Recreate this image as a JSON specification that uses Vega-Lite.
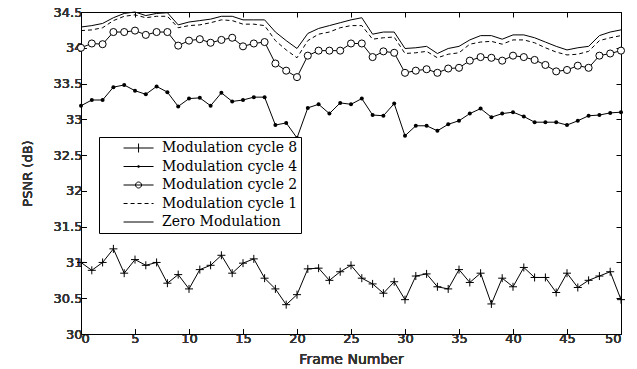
{
  "$schema": "https://vega.github.io/schema/vega-lite/v6.json",
  "width": 540,
  "height": 322,
  "autosize": {"type": "none"},
  "padding": {"left": 81, "top": 12, "right": 16, "bottom": 35},
  "background": "white",
  "config": {
    "view": {"stroke": null},
    "style": {"guide-title": {"fontWeight": "normal"}},
    "axis": {
      "grid": false,
      "domainColor": "black",
      "domainWidth": 1,
      "tickColor": "black",
      "tickSize": -5,
      "tickWidth": 1,
      "labelFont": "DejaVu Sans",
      "labelFontSize": 13,
      "labelColor": "#333",
      "titleFont": "DejaVu Sans",
      "titleFontSize": 13,
      "titleFontWeight": "normal",
      "titleColor": "#333"
    }
  },
  "data": {
    "values": [
      {"f": 0, "Zero Modulation": 34.29, "Modulation cycle 1": 34.24, "Modulation cycle 2": 34.00, "Modulation cycle 4": 33.19, "Modulation cycle 8": 31.00},
      {"f": 1, "Zero Modulation": 34.31, "Modulation cycle 1": 34.25, "Modulation cycle 2": 34.06, "Modulation cycle 4": 33.27, "Modulation cycle 8": 30.89},
      {"f": 2, "Zero Modulation": 34.34, "Modulation cycle 1": 34.28, "Modulation cycle 2": 34.05, "Modulation cycle 4": 33.27, "Modulation cycle 8": 31.00},
      {"f": 3, "Zero Modulation": 34.42, "Modulation cycle 1": 34.38, "Modulation cycle 2": 34.22, "Modulation cycle 4": 33.45, "Modulation cycle 8": 31.19},
      {"f": 4, "Zero Modulation": 34.48, "Modulation cycle 1": 34.44, "Modulation cycle 2": 34.22, "Modulation cycle 4": 33.48, "Modulation cycle 8": 30.85},
      {"f": 5, "Zero Modulation": 34.50, "Modulation cycle 1": 34.46, "Modulation cycle 2": 34.24, "Modulation cycle 4": 33.40, "Modulation cycle 8": 31.04},
      {"f": 6, "Zero Modulation": 34.45, "Modulation cycle 1": 34.42, "Modulation cycle 2": 34.18, "Modulation cycle 4": 33.35, "Modulation cycle 8": 30.96},
      {"f": 7, "Zero Modulation": 34.48, "Modulation cycle 1": 34.44, "Modulation cycle 2": 34.22, "Modulation cycle 4": 33.46, "Modulation cycle 8": 31.00},
      {"f": 8, "Zero Modulation": 34.49, "Modulation cycle 1": 34.44, "Modulation cycle 2": 34.22, "Modulation cycle 4": 33.38, "Modulation cycle 8": 30.71},
      {"f": 9, "Zero Modulation": 34.32, "Modulation cycle 1": 34.28, "Modulation cycle 2": 34.03, "Modulation cycle 4": 33.18, "Modulation cycle 8": 30.83},
      {"f": 10, "Zero Modulation": 34.36, "Modulation cycle 1": 34.31, "Modulation cycle 2": 34.10, "Modulation cycle 4": 33.29, "Modulation cycle 8": 30.63},
      {"f": 11, "Zero Modulation": 34.38, "Modulation cycle 1": 34.32, "Modulation cycle 2": 34.12, "Modulation cycle 4": 33.30, "Modulation cycle 8": 30.90},
      {"f": 12, "Zero Modulation": 34.40, "Modulation cycle 1": 34.35, "Modulation cycle 2": 34.07, "Modulation cycle 4": 33.19, "Modulation cycle 8": 30.96},
      {"f": 13, "Zero Modulation": 34.44, "Modulation cycle 1": 34.39, "Modulation cycle 2": 34.11, "Modulation cycle 4": 33.37, "Modulation cycle 8": 31.10},
      {"f": 14, "Zero Modulation": 34.44, "Modulation cycle 1": 34.38, "Modulation cycle 2": 34.14, "Modulation cycle 4": 33.25, "Modulation cycle 8": 30.85},
      {"f": 15, "Zero Modulation": 34.39, "Modulation cycle 1": 34.33, "Modulation cycle 2": 34.02, "Modulation cycle 4": 33.27, "Modulation cycle 8": 30.99},
      {"f": 16, "Zero Modulation": 34.39, "Modulation cycle 1": 34.33, "Modulation cycle 2": 34.06, "Modulation cycle 4": 33.31, "Modulation cycle 8": 31.05},
      {"f": 17, "Zero Modulation": 34.39, "Modulation cycle 1": 34.31, "Modulation cycle 2": 34.08, "Modulation cycle 4": 33.31, "Modulation cycle 8": 30.78},
      {"f": 18, "Zero Modulation": 34.22, "Modulation cycle 1": 34.10, "Modulation cycle 2": 33.78, "Modulation cycle 4": 32.92, "Modulation cycle 8": 30.63},
      {"f": 19, "Zero Modulation": 34.10, "Modulation cycle 1": 33.97, "Modulation cycle 2": 33.68, "Modulation cycle 4": 32.95, "Modulation cycle 8": 30.41},
      {"f": 20, "Zero Modulation": 33.99, "Modulation cycle 1": 33.86, "Modulation cycle 2": 33.59, "Modulation cycle 4": 32.74, "Modulation cycle 8": 30.55},
      {"f": 21, "Zero Modulation": 34.20, "Modulation cycle 1": 34.10, "Modulation cycle 2": 33.89, "Modulation cycle 4": 33.16, "Modulation cycle 8": 30.91},
      {"f": 22, "Zero Modulation": 34.27, "Modulation cycle 1": 34.19, "Modulation cycle 2": 33.96, "Modulation cycle 4": 33.21, "Modulation cycle 8": 30.92},
      {"f": 23, "Zero Modulation": 34.31, "Modulation cycle 1": 34.22, "Modulation cycle 2": 33.96, "Modulation cycle 4": 33.08, "Modulation cycle 8": 30.75},
      {"f": 24, "Zero Modulation": 34.35, "Modulation cycle 1": 34.28, "Modulation cycle 2": 33.96, "Modulation cycle 4": 33.23, "Modulation cycle 8": 30.87},
      {"f": 25, "Zero Modulation": 34.39, "Modulation cycle 1": 34.31, "Modulation cycle 2": 34.06, "Modulation cycle 4": 33.21, "Modulation cycle 8": 30.96},
      {"f": 26, "Zero Modulation": 34.42, "Modulation cycle 1": 34.31, "Modulation cycle 2": 34.06, "Modulation cycle 4": 33.29, "Modulation cycle 8": 30.78},
      {"f": 27, "Zero Modulation": 34.19, "Modulation cycle 1": 34.12, "Modulation cycle 2": 33.87, "Modulation cycle 4": 33.06, "Modulation cycle 8": 30.70},
      {"f": 28, "Zero Modulation": 34.22, "Modulation cycle 1": 34.14, "Modulation cycle 2": 33.95, "Modulation cycle 4": 33.05, "Modulation cycle 8": 30.57},
      {"f": 29, "Zero Modulation": 34.22, "Modulation cycle 1": 34.15, "Modulation cycle 2": 33.93, "Modulation cycle 4": 33.22, "Modulation cycle 8": 30.73},
      {"f": 30, "Zero Modulation": 33.99, "Modulation cycle 1": 33.92, "Modulation cycle 2": 33.65, "Modulation cycle 4": 32.77, "Modulation cycle 8": 30.48},
      {"f": 31, "Zero Modulation": 34.00, "Modulation cycle 1": 33.93, "Modulation cycle 2": 33.68, "Modulation cycle 4": 32.91, "Modulation cycle 8": 30.81},
      {"f": 32, "Zero Modulation": 34.02, "Modulation cycle 1": 33.95, "Modulation cycle 2": 33.70, "Modulation cycle 4": 32.91, "Modulation cycle 8": 30.84},
      {"f": 33, "Zero Modulation": 33.92, "Modulation cycle 1": 33.86, "Modulation cycle 2": 33.65, "Modulation cycle 4": 32.84, "Modulation cycle 8": 30.66},
      {"f": 34, "Zero Modulation": 33.99, "Modulation cycle 1": 33.91, "Modulation cycle 2": 33.71, "Modulation cycle 4": 32.93, "Modulation cycle 8": 30.63},
      {"f": 35, "Zero Modulation": 34.02, "Modulation cycle 1": 33.93, "Modulation cycle 2": 33.72, "Modulation cycle 4": 32.98, "Modulation cycle 8": 30.90},
      {"f": 36, "Zero Modulation": 34.11, "Modulation cycle 1": 34.05, "Modulation cycle 2": 33.82, "Modulation cycle 4": 33.08, "Modulation cycle 8": 30.72},
      {"f": 37, "Zero Modulation": 34.17, "Modulation cycle 1": 34.08, "Modulation cycle 2": 33.87, "Modulation cycle 4": 33.15, "Modulation cycle 8": 30.85},
      {"f": 38, "Zero Modulation": 34.17, "Modulation cycle 1": 34.09, "Modulation cycle 2": 33.86, "Modulation cycle 4": 33.03, "Modulation cycle 8": 30.42},
      {"f": 39, "Zero Modulation": 34.12, "Modulation cycle 1": 34.05, "Modulation cycle 2": 33.82, "Modulation cycle 4": 33.08, "Modulation cycle 8": 30.78},
      {"f": 40, "Zero Modulation": 34.18, "Modulation cycle 1": 34.11, "Modulation cycle 2": 33.89, "Modulation cycle 4": 33.10, "Modulation cycle 8": 30.66},
      {"f": 41, "Zero Modulation": 34.18, "Modulation cycle 1": 34.11, "Modulation cycle 2": 33.87, "Modulation cycle 4": 33.04, "Modulation cycle 8": 30.93},
      {"f": 42, "Zero Modulation": 34.14, "Modulation cycle 1": 34.07, "Modulation cycle 2": 33.83, "Modulation cycle 4": 32.96, "Modulation cycle 8": 30.79},
      {"f": 43, "Zero Modulation": 34.08, "Modulation cycle 1": 34.00, "Modulation cycle 2": 33.76, "Modulation cycle 4": 32.96, "Modulation cycle 8": 30.79},
      {"f": 44, "Zero Modulation": 34.02, "Modulation cycle 1": 33.94, "Modulation cycle 2": 33.67, "Modulation cycle 4": 32.96, "Modulation cycle 8": 30.58},
      {"f": 45, "Zero Modulation": 33.97, "Modulation cycle 1": 33.90, "Modulation cycle 2": 33.69, "Modulation cycle 4": 32.92, "Modulation cycle 8": 30.85},
      {"f": 46, "Zero Modulation": 34.00, "Modulation cycle 1": 33.91, "Modulation cycle 2": 33.75, "Modulation cycle 4": 32.98, "Modulation cycle 8": 30.65},
      {"f": 47, "Zero Modulation": 34.02, "Modulation cycle 1": 33.95, "Modulation cycle 2": 33.72, "Modulation cycle 4": 33.05, "Modulation cycle 8": 30.75},
      {"f": 48, "Zero Modulation": 34.17, "Modulation cycle 1": 34.10, "Modulation cycle 2": 33.89, "Modulation cycle 4": 33.06, "Modulation cycle 8": 30.81},
      {"f": 49, "Zero Modulation": 34.22, "Modulation cycle 1": 34.14, "Modulation cycle 2": 33.92, "Modulation cycle 4": 33.09, "Modulation cycle 8": 30.87},
      {"f": 50, "Zero Modulation": 34.25, "Modulation cycle 1": 34.17, "Modulation cycle 2": 33.96, "Modulation cycle 4": 33.10, "Modulation cycle 8": 30.48}
    ]
  },
  "transform": [
    {"fold": ["Modulation cycle 8", "Modulation cycle 4", "Modulation cycle 2", "Modulation cycle 1", "Zero Modulation"], "as": ["series", "psnr"]}
  ],
  "encoding": {
    "x": {
      "field": "f", "type": "quantitative",
      "scale": {"domain": [0, 50], "nice": false, "zero": false},
      "axis": {"orient": "bottom", "values": [0, 5, 10, 15, 20, 25, 30, 35, 40, 45, 50], "labelPadding": 3, "title": "Frame Number", "titleFontSize": 14, "titleFontWeight": 400, "titlePadding": 7}
    },
    "y": {
      "field": "psnr", "type": "quantitative",
      "scale": {"domain": [30, 34.5], "nice": false, "zero": false},
      "axis": {"orient": "left", "values": [30, 30.5, 31, 31.5, 32, 32.5, 33, 33.5, 34, 34.5], "format": "~g", "labelPadding": 4, "title": "PSNR (dB)", "titleFontWeight": 400, "titlePadding": 19}
    }
  },
  "layer": [
    {
      "transform": [{"filter": {"field": "series", "oneOf": ["Modulation cycle 8", "Modulation cycle 4", "Modulation cycle 2", "Zero Modulation"]}}],
      "mark": {"type": "line", "color": "black", "strokeWidth": 1},
      "encoding": {"detail": {"field": "series", "type": "nominal"}}
    },
    {
      "transform": [{"filter": {"field": "series", "equal": "Modulation cycle 1"}}],
      "mark": {"type": "line", "color": "black", "strokeWidth": 1, "strokeDash": [4, 3]},
      "encoding": {}
    },
    {
      "transform": [{"filter": {"field": "series", "equal": "Modulation cycle 8"}}],
      "mark": {"type": "point", "shape": "M-1,0H1M0,-1V1", "size": 64, "color": "black", "strokeWidth": 1, "filled": false, "opacity": 1},
      "encoding": {
        "x": {"field": "f", "type": "quantitative", "axis": {"orient": "top", "labels": false, "title": null, "values": [0, 5, 10, 15, 20, 25, 30, 35, 40, 45, 50]}},
        "y": {"field": "psnr", "type": "quantitative", "axis": {"orient": "right", "labels": false, "title": null, "values": [30, 30.5, 31, 31.5, 32, 32.5, 33, 33.5, 34, 34.5]}}
      }
    },
    {
      "transform": [{"filter": {"field": "series", "equal": "Modulation cycle 4"}}],
      "mark": {"type": "point", "shape": "circle", "size": 16, "color": "black", "filled": true, "opacity": 1}
    },
    {
      "transform": [{"filter": {"field": "series", "equal": "Modulation cycle 2"}}],
      "mark": {"type": "point", "shape": "circle", "size": 50, "fill": "white", "stroke": "black", "strokeWidth": 1, "filled": true, "opacity": 1}
    },
    {
      "mark": {"type": "point", "size": 0, "color": "black", "strokeWidth": 1, "filled": false},
      "encoding": {
        "shape": {
          "field": "series", "type": "nominal",
          "scale": {
            "domain": ["Modulation cycle 8", "Modulation cycle 4", "Modulation cycle 2", "Modulation cycle 1", "Zero Modulation"],
            "range": [
              "M-0.33,0H1.67M0.67,-0.3V0.3",
              "M-0.33,0H1.67M0.74,0A0.07,0.07 0 1 1 0.6,0A0.07,0.07 0 1 1 0.74,0",
              "M-0.33,0H1.67M0.87,0A0.2,0.2 0 1 1 0.47,0A0.2,0.2 0 1 1 0.87,0",
              "M-0.33,0H-0.063M0.137,0H0.403M0.603,0H0.87M1.07,0H1.337M1.537,0H1.67",
              "M-0.33,0H1.67"
            ]
          },
          "legend": {
            "title": null, "orient": "none", "legendX": 18, "legendY": 125, "direction": "vertical",
            "symbolSize": 900, "symbolStrokeWidth": 1, "symbolStrokeColor": "black", "symbolOffset": 11, "symbolOpacity": 1,
            "labelOffset": 18, "labelFont": "DejaVu Serif", "labelFontSize": 14, "labelColor": "black", "labelLimit": 300,
            "clipHeight": 16, "rowPadding": 2.5, "padding": 3, "strokeColor": "black", "fillColor": "white",
            "encode": {"symbols": {"update": {"size": {"value": 900}, "opacity": {"value": 1}, "stroke": {"value": "black"}, "strokeWidth": {"value": 1}}}}
          }
        }
      }
    }
  ]
}
